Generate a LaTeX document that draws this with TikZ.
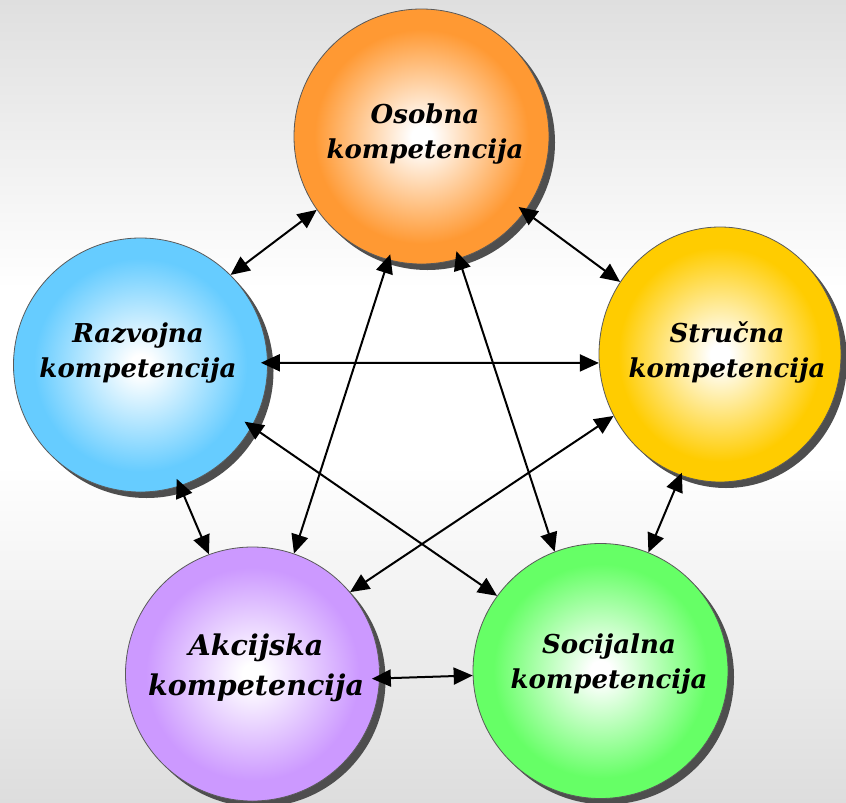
\documentclass[tikz,border=0pt]{standalone}
\usepackage{fontspec}
\setmainfont{DejaVu Serif}
\usetikzlibrary{arrows.meta,shadows,shapes.geometric}

\definecolor{bgtop}{HTML}{DFDFDF}
\definecolor{bgbot}{HTML}{DDDDDD}
\definecolor{shadowgray}{HTML}{4E4E4E}
\definecolor{rimgray}{HTML}{5A5A5A}
\definecolor{orangeC}{HTML}{FF9933}
\definecolor{yellowC}{HTML}{FFCC00}
\definecolor{blueC}{HTML}{66CCFF}
\definecolor{purpleC}{HTML}{CC99FF}
\definecolor{greenC}{HTML}{66FF66}

\colorlet{ballrim}{orangeC}
\pgfdeclareradialshading[ballrim]{softball}{\pgfpoint{0bp}{0bp}}{color(0bp)=(white); color(2bp)=(white); color(21bp)=(ballrim); color(25bp)=(ballrim); color(50bp)=(ballrim)}
\pgfdeclareverticalshading{bgshade}{100bp}{color(0bp)=(bgbot); color(25bp)=(bgbot); color(46bp)=(white); color(57bp)=(white); color(75bp)=(bgtop); color(100bp)=(bgtop)}

\tikzset{
  tint/.code={\colorlet{ballrim}{#1}},
  comp/.style={draw=rimgray, line width=0.8pt, inner sep=0pt, shading=softball,
    drop shadow={shadow xshift=6pt, shadow yshift=-6pt, fill=shadowgray, opacity=1}},
  ball/.style={comp, circle, minimum size=#1},
  lbl/.style={font=\bfseries\itshape\fontsize{26}{35}\selectfont, align=center, text=black, inner sep=0pt},
  biglbl/.style={font=\bfseries\itshape\fontsize{28.5}{40}\selectfont, align=center, text=black, inner sep=0pt},
  link/.style={{Triangle[length=19pt,width=17pt]}-{Triangle[length=19pt,width=17pt]}, line width=2pt, black},
}

\begin{document}
\begin{tikzpicture}[x=1pt,y=1pt]
\useasboundingbox (0,-803) rectangle (846,0);
\fill[shading=bgshade] (0,-803) rectangle (846,0);

\node[ball=255pt, tint=orangeC] (O) at (421.5,-136.5) {};
\node[comp, ellipse, minimum width=242pt, minimum height=255pt, tint=yellowC] (S) at (720,-354.5) {};
\node[ball=254pt, tint=blueC] (R) at (140.5,-365) {};
\node[ball=254pt, tint=purpleC] (A) at (252.5,-674) {};
\node[ball=255pt, tint=greenC] (So) at (600.5,-671) {};

\node[lbl] (Ot) at (425,-134) {Osobna\\kompetencija};
\node[lbl] (St) at (727,-352) {Stručna\\kompetencija};
\node[lbl] (Rt) at (138,-353) {Razvojna\\kompetencija};
\node[biglbl] (At) at (256,-668) {Akcijska\\kompetencija};
\node[lbl] (Sot) at (609,-664) {Socijalna\\kompetencija};

\draw[link] (O.215.3) -- (R.45);
\draw[link, shorten <=-8pt] (O.324.3) -- (S.144.4);
\draw[link, shorten <=-6pt] (O.255) -- (A.71.6);
\draw[link, shorten <=-8pt] (O.287.8) -- (So.111.1);
\draw[link, shorten <=-7pt] (R.1) -- (S.184);
\draw[link, shorten <=-9pt] (R.331.2) -- (So.144.4);
\draw[link, shorten <=-8pt] (R.288.4) -- (A.110.7);
\draw[link] (S.210.2) -- (A.40.8);
\draw[link, shorten <=-3pt] (S.252.4) -- (So.68.6);
\draw[link, shorten <=-8pt] (A.358.6) -- (So.182.8);
\end{tikzpicture}
\end{document}
